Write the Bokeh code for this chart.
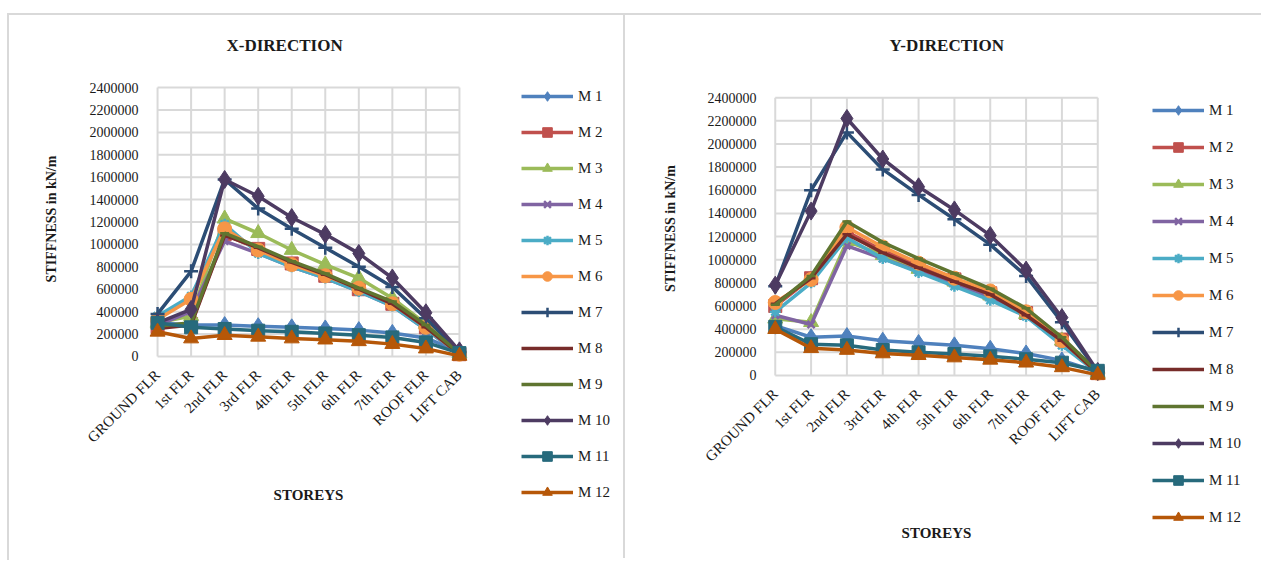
from bokeh.plotting import figure
from bokeh.layouts import row, column
from bokeh.models import (Range1d, FixedTicker, Legend, LegendItem, BasicTickFormatter, Spacer)
from bokeh.embed import file_html
from bokeh.resources import INLINE

# ---------------- data ----------------
storeys = ["GROUND FLR", "1st FLR", "2nd FLR", "3rd FLR", "4th FLR", "5th FLR",
           "6th FLR", "7th FLR", "ROOF FLR", "LIFT CAB"]
series_names = ["M 1", "M 2", "M 3", "M 4", "M 5", "M 6",
                "M 7", "M 8", "M 9", "M 10", "M 11", "M 12"]
y_tick_values = [0, 200000, 400000, 600000, 800000, 1000000, 1200000,
                 1400000, 1600000, 1800000, 2000000, 2200000, 2400000]

# X-direction stiffness (kN/m)
x_m1 = [300000, 280000, 280000, 270000, 260000, 250000, 235000, 210000, 165000, 40000]
x_m2 = [260000, 290000, 1090000, 960000, 830000, 720000, 600000, 470000, 260000, 20000]
x_m3 = [300000, 360000, 1230000, 1100000, 950000, 820000, 700000, 520000, 290000, 30000]
x_m4 = [280000, 400000, 1030000, 920000, 800000, 700000, 580000, 450000, 240000, 20000]
x_m5 = [360000, 540000, 1180000, 920000, 800000, 700000, 580000, 450000, 240000, 25000]
x_m6 = [330000, 510000, 1140000, 950000, 820000, 720000, 610000, 470000, 260000, 20000]
x_m7 = [380000, 760000, 1580000, 1320000, 1140000, 970000, 800000, 620000, 340000, 40000]
x_m8 = [250000, 280000, 1080000, 970000, 840000, 730000, 600000, 470000, 260000, 20000]
x_m9 = [270000, 300000, 1100000, 980000, 850000, 740000, 610000, 490000, 280000, 30000]
x_m10 = [300000, 420000, 1580000, 1430000, 1240000, 1090000, 920000, 700000, 390000, 50000]
x_m11 = [300000, 260000, 245000, 230000, 220000, 205000, 190000, 170000, 125000, 30000]
x_m12 = [220000, 160000, 190000, 175000, 160000, 150000, 135000, 110000, 70000, 5000]

# Y-direction stiffness (kN/m)
y_m1 = [430000, 330000, 340000, 300000, 280000, 260000, 230000, 190000, 130000, 30000]
y_m2 = [600000, 840000, 1240000, 1080000, 950000, 830000, 710000, 540000, 310000, 20000]
y_m3 = [490000, 460000, 1160000, 1040000, 920000, 810000, 690000, 530000, 300000, 20000]
y_m4 = [520000, 440000, 1120000, 1010000, 900000, 790000, 670000, 520000, 290000, 20000]
y_m5 = [550000, 800000, 1190000, 1010000, 890000, 770000, 650000, 510000, 260000, 20000]
y_m6 = [630000, 830000, 1280000, 1110000, 970000, 840000, 730000, 550000, 300000, 20000]
y_m7 = [770000, 1600000, 2100000, 1780000, 1560000, 1350000, 1130000, 860000, 460000, 30000]
y_m8 = [620000, 840000, 1220000, 1060000, 930000, 810000, 700000, 520000, 300000, 20000]
y_m9 = [610000, 860000, 1330000, 1150000, 1010000, 880000, 750000, 580000, 330000, 30000]
y_m10 = [780000, 1420000, 2220000, 1870000, 1630000, 1430000, 1210000, 910000, 500000, 35000]
y_m11 = [420000, 270000, 260000, 220000, 200000, 185000, 165000, 140000, 110000, 40000]
y_m12 = [400000, 235000, 220000, 190000, 175000, 155000, 135000, 110000, 70000, 5000]

x_series = [x_m1, x_m2, x_m3, x_m4, x_m5, x_m6, x_m7, x_m8, x_m9, x_m10, x_m11, x_m12]
y_series = [y_m1, y_m2, y_m3, y_m4, y_m5, y_m6, y_m7, y_m8, y_m9, y_m10, y_m11, y_m12]

# ---------------- styles ----------------
colors = ["#4F81BD", "#C0504D", "#9BBB59", "#8064A2", "#4BACC6", "#F79646",
          "#2C4D75", "#772C2A", "#5F7530", "#4D3B62", "#276A7C", "#B65708"]
markers = ["diamond", "square", "triangle", "x", "asterisk", "circle",
           "cross", "dash", "dash", "diamond", "square", "triangle"]
sizes = [17, 13, 15, 10, 11, 14, 14, 9, 9, 18, 13, 15]

FONT = "Liberation Serif"
GRID = "#D9D9D9"
TXT = "#1a1a1a"
BORDER = "2px solid #D9D9D9"
PANEL_H = 545
NAN = float("nan")
LEG_ITEM_H = 24


def add_series(p, xs, values):
    out = []
    for v, c, m, s in zip(values, colors, markers, sizes):
        r1 = p.line(xs, v, line_color=c, line_width=3.5)
        lw = 2.5 if m in ("x", "asterisk", "cross", "dash") else 1
        r2 = p.scatter(xs, v, marker=m, size=s, fill_color=c, line_color=c, line_width=lw)
        out.append((r1, r2))
    return out


def build(title, values, fw, plot_px, pad_top_px, pad_bot_px, mbl, mbr,
          title_offset, xlabel_standoff, ylabel_standoff, ytick_standoff, border_styles):
    n = len(storeys)
    xs = list(range(n))
    top_val = y_tick_values[-1]
    per_px = top_val / plot_px
    ylo = -pad_bot_px * per_px
    yhi = top_val + pad_top_px * per_px
    fh = plot_px + pad_top_px + pad_bot_px
    mbt = 58
    p = figure(frame_width=fw, frame_height=fh,
               x_range=Range1d(-0.3, n - 1 + 0.3), y_range=Range1d(ylo, yhi),
               output_backend="svg", toolbar_location=None,
               min_border_left=mbl, min_border_right=mbr,
               min_border_top=mbt, min_border_bottom=PANEL_H - mbt - fh,
               title=title, frame_align=False)
    p.styles = border_styles
    p.outline_line_color = None
    p.xgrid.visible = False
    p.ygrid.visible = False

    # gridlines spanning only first..last category (Excel style)
    p.segment(x0=[xs[0]] * len(y_tick_values), x1=[xs[-1]] * len(y_tick_values),
              y0=y_tick_values, y1=y_tick_values, line_color=GRID, line_width=2)
    p.segment(x0=xs, x1=xs, y0=[y_tick_values[0]] * n, y1=[y_tick_values[-1]] * n,
              line_color=GRID, line_width=2)

    add_series(p, xs, values)

    p.title.align = "left"
    p.title.offset = title_offset
    p.title.standoff = 37
    p.title.text_font = FONT
    p.title.text_font_size = "17px"
    p.title.text_font_style = "bold"
    p.title.text_color = TXT

    # x axis
    p.xaxis.ticker = FixedTicker(ticks=xs)
    p.xaxis.major_label_overrides = {i: s for i, s in enumerate(storeys)}
    p.xaxis.major_label_orientation = 0.785398
    p.xaxis.major_label_text_font = FONT
    p.xaxis.major_label_text_font_size = "15px"
    p.xaxis.major_label_text_color = TXT
    p.xaxis.major_label_standoff = 2
    p.xaxis.axis_line_color = None
    p.xaxis.major_tick_line_color = None
    p.xaxis.minor_tick_line_color = None
    p.xaxis.axis_label = "STOREYS"
    p.xaxis.axis_label_text_font = FONT
    p.xaxis.axis_label_text_font_size = "15px"
    p.xaxis.axis_label_text_font_style = "bold"
    p.xaxis.axis_label_text_color = TXT
    p.xaxis.axis_label_standoff = xlabel_standoff

    # y axis
    p.yaxis.ticker = FixedTicker(ticks=y_tick_values)
    p.yaxis.formatter = BasicTickFormatter(use_scientific=False)
    p.yaxis.major_label_text_font = FONT
    p.yaxis.major_label_text_font_size = "14px"
    p.yaxis.major_label_text_color = TXT
    p.yaxis.major_label_standoff = ytick_standoff
    p.yaxis.axis_line_color = None
    p.yaxis.major_tick_line_color = None
    p.yaxis.minor_tick_line_color = None
    p.yaxis.axis_label = "STIFFNESS in kN/m"
    p.yaxis.axis_label_text_font = FONT
    p.yaxis.axis_label_text_font_size = "14px"
    p.yaxis.axis_label_text_font_style = "bold"
    p.yaxis.axis_label_text_color = TXT
    p.yaxis.axis_label_standoff = ylabel_standoff
    return p


def build_legend(width, top_px, spacing, border_styles):
    lg = figure(width=width, height=PANEL_H, x_range=Range1d(0, 1), y_range=Range1d(0, 1),
                output_backend="svg", toolbar_location=None,
                x_axis_location=None, y_axis_location=None,
                min_border_left=0, min_border_right=0, min_border_top=0, min_border_bottom=0,
                frame_align=False)
    lg.styles = border_styles
    lg.outline_line_color = None
    lg.xgrid.visible = False
    lg.ygrid.visible = False
    # key-only renderers (no visible data; they just carry the series styles)
    pairs = add_series(lg, [NAN], [[NAN] for _ in series_names])
    items = [LegendItem(label=name, renderers=[r1, r2])
             for name, (r1, r2) in zip(series_names, pairs)]
    n = len(items)
    legend_h = n * LEG_ITEM_H + (n - 1) * spacing
    legend = Legend(items=items, location=(6, PANEL_H - top_px - legend_h),
                    orientation="vertical",
                    padding=0, margin=0, spacing=spacing,
                    glyph_width=52, glyph_height=LEG_ITEM_H, label_height=LEG_ITEM_H,
                    label_standoff=5, label_text_font=FONT,
                    label_text_font_size="15px", label_text_color=TXT,
                    border_line_alpha=0, background_fill_alpha=0)
    lg.add_layout(legend)
    return lg


left = build("X-DIRECTION", x_series, fw=320, plot_px=267, pad_top_px=14, pad_bot_px=8,
             mbl=138, mbr=48, title_offset=79,
             xlabel_standoff=33, ylabel_standoff=28, ytick_standoff=3,
             border_styles={"border-top": BORDER, "border-left": BORDER})
left_leg = build_legend(110, 69, 12, {"border-top": BORDER, "border-right": BORDER})

right = build("Y-DIRECTION", y_series, fw=344, plot_px=276, pad_top_px=24, pad_bot_px=8,
              mbl=139, mbr=38, title_offset=125,
              xlabel_standoff=52, ylabel_standoff=27, ytick_standoff=2,
              border_styles={"border-top": BORDER})
right_leg = build_legend(115, 83, 13, {"border-top": BORDER})

layout = column(Spacer(height=13), row(Spacer(width=7), left, left_leg, right, right_leg))
open("out.html", "w").write(file_html(layout, INLINE))
